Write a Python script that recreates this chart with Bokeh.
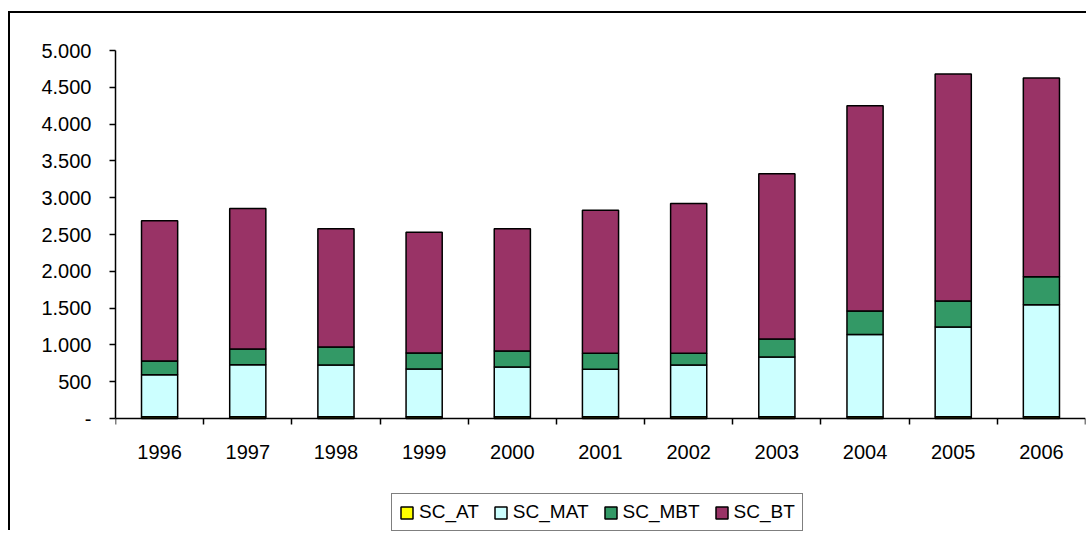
from bokeh.plotting import figure
from bokeh.models import (Range1d, FixedTicker, Legend, LegendItem, ColumnDataSource)
from bokeh.embed import file_html
from bokeh.resources import INLINE

# ---- data ----
years = [1996, 1997, 1998, 1999, 2000, 2001, 2002, 2003, 2004, 2005, 2006]
year_labels = ["1996", "1997", "1998", "1999", "2000", "2001", "2002", "2003", "2004", "2005", "2006"]
sc_at = [25, 25, 25, 25, 25, 25, 25, 25, 25, 25, 25]
sc_mat = [570, 706, 702, 647, 674, 643, 702, 811, 1115, 1219, 1519]
sc_mbt = [186, 213, 245, 218, 218, 218, 159, 245, 322, 354, 381]
sc_bt = [1907, 1908, 1607, 1640, 1662, 1944, 2034, 2243, 2789, 3084, 2702]
series_names = ["SC_AT", "SC_MAT", "SC_MBT", "SC_BT"]
series_colors = ["#FFFF00", "#CCFFFF", "#339966", "#993366"]
y_ticks = [0, 500, 1000, 1500, 2000, 2500, 3000, 3500, 4000, 4500, 5000]
y_tick_labels = ["-", "500", "1.000", "1.500", "2.000", "2.500", "3.000", "3.500", "4.000", "4.500", "5.000"]

FONT = "Liberation Sans"

# layout: value axis spans 368 px for 0..5000; frame continues 114 px below zero
FRAME_TOP, FRAME_H, AXIS_PX = 37, 482, 368
y_max = y_ticks[-1]
y_min = y_max - FRAME_H / AXIS_PX * y_max

source = ColumnDataSource(dict(x=years, SC_AT=sc_at, SC_MAT=sc_mat, SC_MBT=sc_mbt, SC_BT=sc_bt))

p = figure(width=1078, height=FRAME_TOP + FRAME_H, output_backend="svg", toolbar_location=None,
           x_range=Range1d(years[0] - 0.5, years[-1] + 0.5), y_range=Range1d(y_min, y_max),
           min_border_left=105, min_border_top=FRAME_TOP, min_border_right=3, min_border_bottom=0)
p.styles = {"margin-left": "8px", "margin-top": "11px",
            "border-left": "2px solid black", "border-top": "2px solid black"}

renderers = p.vbar_stack(series_names, x="x", width=0.41, source=source,
                         fill_color=series_colors, line_color="black", line_width=1.5)

p.xgrid.visible = False
p.ygrid.visible = False
p.outline_line_color = None
p.background_fill_color = "white"
p.border_fill_color = "white"

# x axis: fixed at value 0, labels at centres, ticks at category boundaries
xa = p.xaxis[0]
xa.fixed_location = 0
xa.ticker = FixedTicker(ticks=years, minor_ticks=[y - 0.5 for y in years] + [years[-1] + 0.5])
xa.major_label_overrides = {y: l for y, l in zip(years, year_labels)}
xa.major_tick_in = 0
xa.major_tick_out = 0
xa.minor_tick_in = 0
xa.minor_tick_out = 6
xa.minor_tick_line_color = "black"
xa.minor_tick_line_width = 1.5
xa.axis_line_color = "black"
xa.axis_line_width = 1.5
xa.major_label_standoff = 20
xa.major_label_text_font = FONT
xa.major_label_text_font_size = "20px"
xa.major_label_text_color = "black"

ya = p.yaxis[0]
ya.bounds = (0, y_max)
ya.ticker = FixedTicker(ticks=y_ticks, minor_ticks=[])
ya.major_label_overrides = {t: l for t, l in zip(y_ticks, y_tick_labels)}
ya.major_tick_in = 0
ya.major_tick_out = 6
ya.major_tick_line_color = "black"
ya.major_tick_line_width = 1.5
ya.minor_tick_out = 0
ya.minor_tick_in = 0
ya.axis_line_color = "black"
ya.axis_line_width = 1.5
ya.major_label_standoff = 18
ya.major_label_text_font = FONT
ya.major_label_text_font_size = "20px"
ya.major_label_text_color = "black"

legend = Legend(items=[LegendItem(label=n, renderers=[r]) for n, r in zip(series_names, renderers)],
                orientation="horizontal", location=(276, 1),
                label_text_font=FONT, label_text_font_size="19px", label_text_color="black",
                glyph_width=15, glyph_height=15, label_standoff=5, spacing=14,
                padding=7, margin=0, border_line_color="black", border_line_width=1.5,
                background_fill_color="white", background_fill_alpha=1.0)
p.add_layout(legend, "center")

open("out.html", "w").write(file_html(p, INLINE))
